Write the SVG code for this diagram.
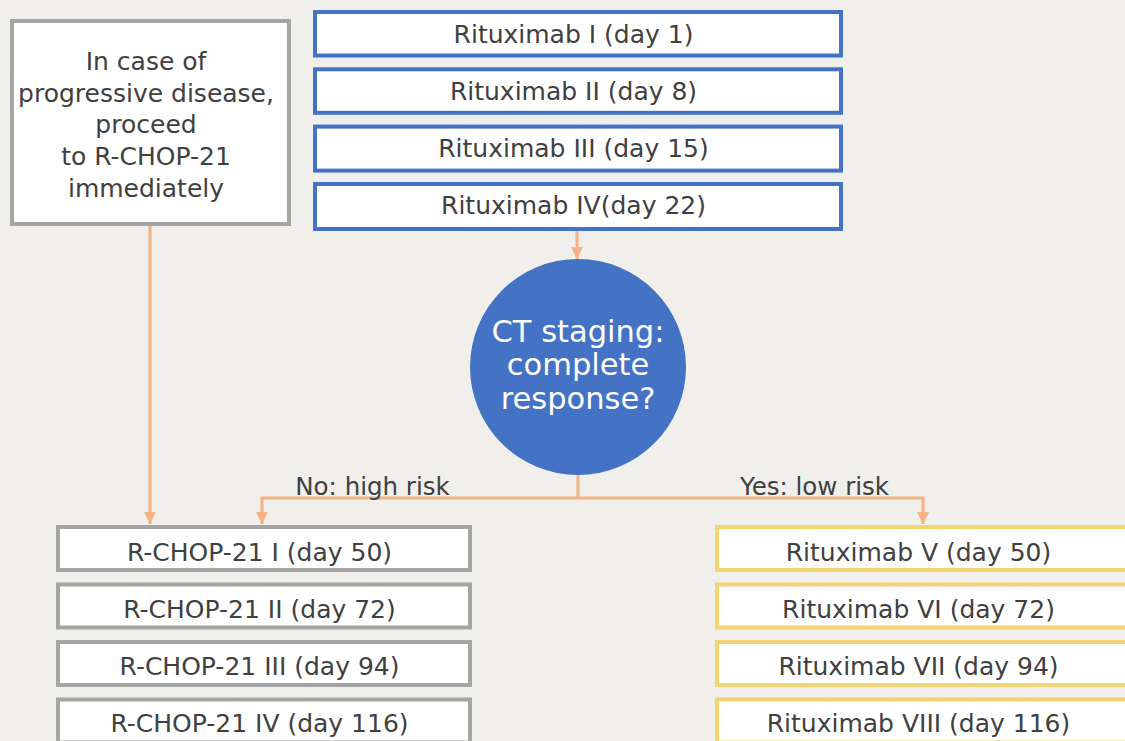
<svg xmlns="http://www.w3.org/2000/svg" width="1125" height="741" viewBox="0 0 1125 741">
<style>
text{font-family:"DejaVu Sans","Liberation Sans",sans-serif;fill:#404040;text-anchor:middle}
.t{font-size:25px}
.blue{fill:#fff;stroke:#4472C4;stroke-width:4}
.gray{fill:#fff;stroke:#A5A5A5;stroke-width:4}
.yel{fill:#fff;stroke:#F2D472;stroke-width:4}
.con{fill:none;stroke:#F4B183;stroke-width:3}
.lbl{font-size:24.5px}
.ct{font-size:30.5px;fill:#fff}
</style>
<defs>
<marker id="ah" markerUnits="userSpaceOnUse" markerWidth="12" markerHeight="12" refX="6" refY="11" orient="auto" viewBox="0 0 12 12">
<path d="M0,0 L12,0 L6,12 Z" fill="#F4B183" transform="rotate(-90 6 6)"/>
</marker>
<marker id="a" markerUnits="userSpaceOnUse" markerWidth="12" markerHeight="13" refX="12" refY="6" orient="auto" viewBox="0 0 12 12">
<path d="M0,0 L12,6 L0,12 Z" fill="#F4B183"/>
</marker>
</defs>
<rect width="1125" height="741" fill="#F0EFEB"/>
<g id="connectors">
<path class="con" d="M150,224 V524" marker-end="url(#a)"/>
<path class="con" d="M577,230 V259" marker-end="url(#a)"/>
<path class="con" d="M578,473 V498"/>
<path class="con" d="M578,498 H262 V524" marker-end="url(#a)"/>
<path class="con" d="M578,498 H923 V524" marker-end="url(#a)"/>
<text class="lbl" x="372.5" y="495">No: high risk</text>
<text class="lbl" x="814.5" y="495">Yes: low risk</text>
</g>
<g id="note">
<rect class="gray" x="12" y="21" width="277" height="203"/>
<text class="t" x="146" y="70">In case of</text>
<text class="t" x="146" y="102">progressive disease,</text>
<text class="t" x="146" y="133">proceed</text>
<text class="t" x="146" y="165">to R-CHOP-21</text>
<text class="t" x="146" y="197">immediately</text>
</g>
<g id="r1"><rect class="blue" x="315" y="12" width="526" height="43.5"/><text class="t" x="573.5" y="43">Rituximab I (day 1)</text></g>
<g id="r2"><rect class="blue" x="315" y="69.3" width="526" height="43.5"/><text class="t" x="573.5" y="100">Rituximab II (day 8)</text></g>
<g id="r3"><rect class="blue" x="315" y="126.6" width="526" height="44"/><text class="t" x="573.5" y="157">Rituximab III (day 15)</text></g>
<g id="r4"><rect class="blue" x="315" y="184" width="526" height="45"/><text class="t" x="573.5" y="214">Rituximab IV(day 22)</text></g>
<g id="ct">
<circle cx="578" cy="367" r="108" fill="#4472C4"/>
<text class="ct" x="578" y="342">CT staging:</text>
<text class="ct" x="578" y="375">complete</text>
<text class="ct" x="578" y="409">response?</text>
</g>
<g id="c1"><rect class="gray" x="58" y="527" width="412" height="43"/><text class="t" x="259.5" y="561">R-CHOP-21 I (day 50)</text></g>
<g id="c2"><rect class="gray" x="58" y="584.5" width="412" height="43"/><text class="t" x="259.5" y="617.5">R-CHOP-21 II (day 72)</text></g>
<g id="c3"><rect class="gray" x="58" y="642" width="412" height="43"/><text class="t" x="259.5" y="674.5">R-CHOP-21 III (day 94)</text></g>
<g id="c4"><rect class="gray" x="58" y="699.5" width="412" height="43"/><text class="t" x="259.5" y="731.5">R-CHOP-21 IV (day 116)</text></g>
<g id="y1"><rect class="yel" x="717" y="527" width="412" height="43"/><text class="t" x="918.5" y="561">Rituximab V (day 50)</text></g>
<g id="y2"><rect class="yel" x="717" y="584.5" width="412" height="43"/><text class="t" x="918.5" y="617.5">Rituximab VI (day 72)</text></g>
<g id="y3"><rect class="yel" x="717" y="642" width="412" height="43"/><text class="t" x="918.5" y="674.5">Rituximab VII (day 94)</text></g>
<g id="y4"><rect class="yel" x="717" y="699.5" width="412" height="43"/><text class="t" x="918.5" y="731.5">Rituximab VIII (day 116)</text></g>
</svg>
